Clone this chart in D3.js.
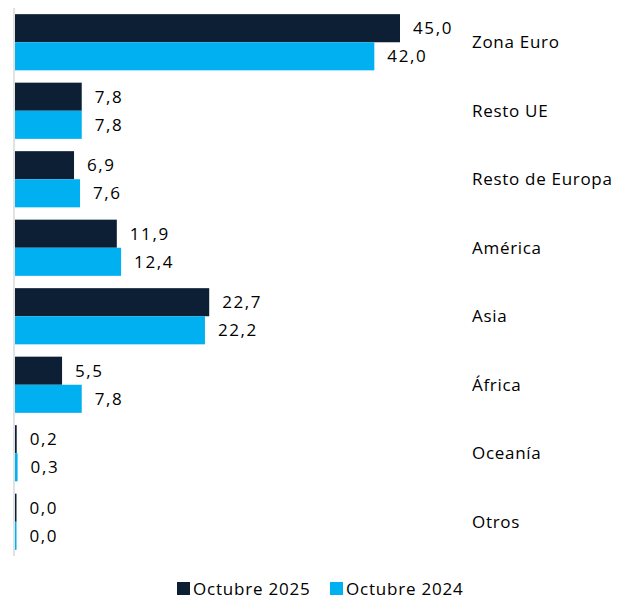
<!DOCTYPE html>
<html>
<head>
<meta charset="utf-8">
<script src="https://cdn.jsdelivr.net/npm/d3@7"></script>
<style>
    body { margin: 0; background: #fff; }
    svg text { font-family: "Open Sans", "Noto Sans", sans-serif; fill: #000; }
</style>
</head>
<body>
<svg id="chart" width="618" height="598"></svg>
<script>
    var categories = ['Zona Euro', 'Resto UE', 'Resto de Europa', 'América', 'Asia', 'África', 'Oceanía', 'Otros'];
    var series = ['Octubre 2025', 'Octubre 2024'];
    var values2025 = [45.0, 7.8, 6.9, 11.9, 22.7, 5.5, 0.2, 0.0];
    var values2024 = [42.0, 7.8, 7.6, 12.4, 22.2, 7.8, 0.3, 0.0];
    var colors = ['#0c1f35', '#00b0f0'];

    var svg = d3.select('#chart');

    var x = d3.scaleLinear().domain([0, 45]).range([15, 400]);
    var y = d3.scaleBand().domain(categories).range([8, 556])
        .paddingInner(0.18).paddingOuter(0.09);
    var ySub = d3.scaleBand().domain(series).range([0, y.bandwidth()]);

    var fmt = function (v) { return v.toFixed(1).replace('.', ','); };

    var rows = categories.map(function (c, i) {
        return { cat: c, vals: [values2025[i], values2024[i]] };
    });

    var g = svg.selectAll('.row')
        .data(rows)
        .enter()
        .append('g')
        .attr('class', 'row')
        .attr('transform', function (d) { return 'translate(0,' + y(d.cat) + ')'; });

    var cell = g.selectAll('.cell')
        .data(function (d) {
            return d.vals.map(function (v, k) { return { s: series[k], v: v, k: k }; });
        })
        .enter();

    cell.append('rect')
        .attr('x', x(0))
        .attr('y', function (d) { return ySub(d.s); })
        .attr('width', function (d) { return Math.max(x(d.v) - x(0), 1.5); })
        .attr('height', ySub.bandwidth())
        .attr('fill', function (d) { return colors[d.k]; });

    cell.append('text')
        .attr('x', function (d) { return Math.max(x(d.v), x(0) + 1.5) + 13; })
        .attr('y', function (d) { return ySub(d.s) + ySub.bandwidth() / 2; })
        .attr('dy', '0.36em')
        .attr('font-size', 17)
        .attr('letter-spacing', 1.6)
        .text(function (d) { return fmt(d.v); });

    g.append('text')
        .attr('x', 472)
        .attr('y', y.bandwidth() / 2)
        .attr('dy', '0.36em')
        .attr('font-size', 17)
        .attr('letter-spacing', 0.7)
        .text(function (d) { return d.cat; });

    // vertical axis line
    svg.append('line')
        .attr('x1', 14).attr('x2', 14)
        .attr('y1', y.range()[0]).attr('y2', y.range()[1])
        .attr('stroke', '#d9d9d9')
        .attr('stroke-width', 1.5);

    // legend
    var legendX = [177, 330];
    var legend = svg.selectAll('.legend')
        .data(series)
        .enter()
        .append('g')
        .attr('class', 'legend')
        .attr('transform', function (d, i) { return 'translate(' + legendX[i] + ',582)'; });
    legend.append('rect')
        .attr('width', 13).attr('height', 13)
        .attr('fill', function (d, i) { return colors[i]; });
    legend.append('text')
        .attr('x', 16)
        .attr('y', 6.5)
        .attr('dy', '0.36em')
        .attr('font-size', 17)
        .attr('letter-spacing', 0.8)
        .text(function (d) { return d; });
</script>
</body>
</html>
